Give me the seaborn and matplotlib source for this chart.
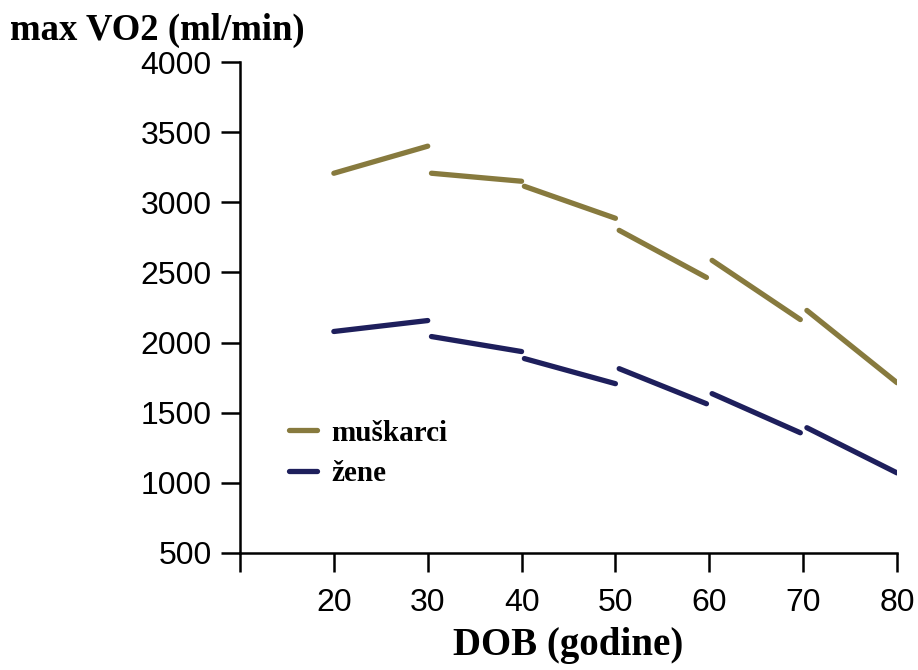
import pandas as pd
import seaborn as sns
import matplotlib.pyplot as plt

# decade segments (start age, end age)
seg_start = [20, 30.4, 40.3, 50.4, 60.3, 70.4]
seg_end = [30, 40, 50, 59.7, 69.7, 80]

# max VO2 at start / end of each segment
muski_start = [3207, 3207, 3114, 2800, 2586, 2229]
muski_end = [3400, 3150, 2886, 2464, 2164, 1714]
zene_start = [2079, 2043, 1886, 1814, 1636, 1393]
zene_end = [2157, 1936, 1707, 1564, 1357, 1071]

x_ticks = [10, 20, 30, 40, 50, 60, 70, 80]
x_labels = ['', '20', '30', '40', '50', '60', '70', '80']
y_ticks = [500, 1000, 1500, 2000, 2500, 3000, 3500, 4000]

rows = []
for spol, st, en in [('muškarci', muski_start, muski_end), ('žene', zene_start, zene_end)]:
    for i in range(len(seg_start)):
        rows.append({'spol': spol, 'seg': i, 'dob': seg_start[i], 'vo2': st[i]})
        rows.append({'spol': spol, 'seg': i, 'dob': seg_end[i], 'vo2': en[i]})
df = pd.DataFrame(rows)

sns.set_style('ticks')
fig = plt.figure(figsize=(9.18, 6.7), dpi=100)
ax = fig.add_axes([240/918, 1-553/670, (897-240)/918, (553-62)/670])

colors = {'muškarci': '#877a3e', 'žene': '#1e1f5c'}
sns.lineplot(data=df, x='dob', y='vo2', hue='spol', units='seg', estimator=None,
             palette=colors, linewidth=3.8, ax=ax, legend=False)

ax.set_xlim(10, 80)
ax.set_ylim(500, 4000)
ax.set_xticks(x_ticks)
ax.set_xticklabels(x_labels)
ax.set_yticks(y_ticks)
sns.despine(ax=ax)
for s in ['left', 'bottom']:
    ax.spines[s].set_linewidth(1.8)
    ax.spines[s].set_color('black')
ax.tick_params(axis='both', length=13.5, width=1.8, labelsize=23, colors='black')
ax.tick_params(axis='y', pad=7)
ax.tick_params(axis='x', pad=12)
for lab in ax.get_xticklabels() + ax.get_yticklabels():
    lab.set_fontfamily('Liberation Sans')

ax.set_xlabel('DOB (godine)', fontfamily='Liberation Serif', fontweight='bold', fontsize=28,
              labelpad=6, color='black')
ax.set_ylabel('')
fig.text(10/918, 1-30/670, 'max VO2 (ml/min)', fontfamily='Liberation Serif', fontweight='bold',
         fontsize=26.5, va='center', ha='left', color='black')

handles = [plt.Line2D([], [], color=colors[k], linewidth=3.8) for k in colors]
leg = ax.legend(handles, list(colors), loc='upper left', bbox_to_anchor=(0.035, 0.325),
                frameon=False, handlelength=0.95, handletextpad=0.5, labelspacing=0.45,
                labelcolor='black',
                prop={'family': 'Liberation Serif', 'weight': 'bold', 'size': 21})

fig.savefig('out.png', dpi=100)
